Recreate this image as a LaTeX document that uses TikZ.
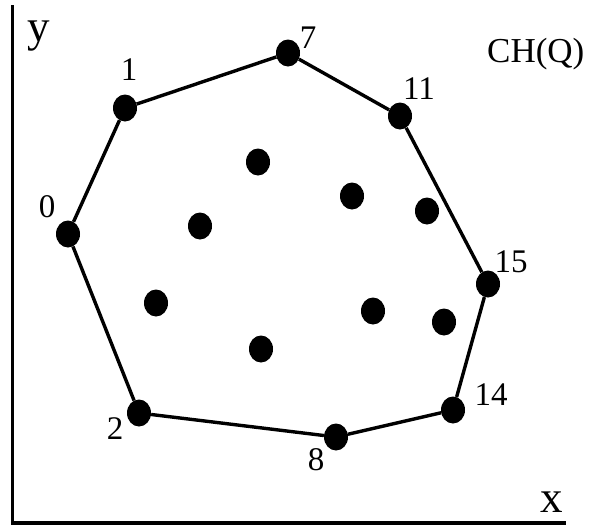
\documentclass[tikz,border=0pt]{standalone}
\usepackage{fontspec}
\setmainfont{Liberation Serif}
\usetikzlibrary{shapes.geometric}
\begin{document}
\begin{tikzpicture}[x=1pt,y=-1pt,
  dot/.style={ellipse,fill=black,draw=none,inner sep=0pt,minimum width=24pt,minimum height=27pt},
  lbl/.style={inner sep=0pt,anchor=base,font=\fontsize{33}{33}\selectfont},
  axlbl/.style={inner sep=0pt,anchor=base,font=\fontsize{45}{45}\selectfont},
  hull/.style={line width=3.4pt},
  axis/.style={line width=3.6pt}]
\useasboundingbox (0,0) rectangle (594,525);
% axes
\coordinate (O) at (12.5,523);
\coordinate (Ytop) at (12.5,5);
\coordinate (Xend) at (566,523);
\draw[axis] (Ytop) -- (O) -- (Xend);
\node[axlbl] (ylab) at (39,41) {y};
\node[axlbl] (xlab) at (552,512) {x};
\node[lbl,anchor=base west,font=\fontsize{35}{35}\selectfont] (chq) at (487,62) {CH(Q)};
% hull points
\node[dot] (h0) at (68,234) {};
\node[dot] (h1) at (125,108) {};
\node[dot] (h7) at (288,53) {};
\node[dot] (h11) at (400,116) {};
\node[dot] (h15) at (488,284) {};
\node[dot] (h14) at (453,410) {};
\node[dot] (h8) at (336,437) {};
\node[dot] (h2) at (139,413) {};
\draw[hull] (h0) -- (h1) -- (h7) -- (h11) -- (h15) -- (h14) -- (h8) -- (h2) -- (h0);
% interior points
\node[dot] (q1) at (258,162) {};
\node[dot] (q2) at (352,196) {};
\node[dot] (q3) at (427,211) {};
\node[dot] (q4) at (200,226) {};
\node[dot] (q5) at (156,303) {};
\node[dot] (q6) at (373,311) {};
\node[dot] (q7) at (444,322) {};
\node[dot] (q8) at (261,349) {};
% labels
\node[lbl] (l0) at (47,217) {0};
\node[lbl] (l1) at (129,80) {1};
\node[lbl] (l7) at (308,48) {7};
\node[lbl] (l11) at (419,99) {11};
\node[lbl] (l15) at (511,272) {15};
\node[lbl] (l14) at (491,405) {14};
\node[lbl] (l8) at (316,470) {8};
\node[lbl] (l2) at (115,439) {2};
\end{tikzpicture}
\end{document}
